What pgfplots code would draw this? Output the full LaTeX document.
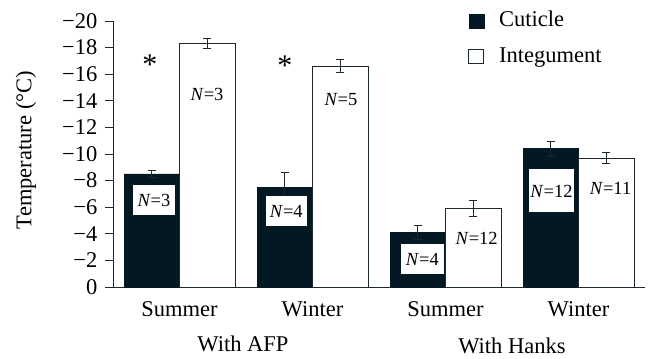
\documentclass[border=0pt]{standalone}
\usepackage{fontspec}
\setmainfont{Liberation Serif}
\usepackage{pgfplots}
\pgfplotsset{compat=1.18}
\definecolor{dk}{RGB}{4,24,35}
\definecolor{ln}{RGB}{28,40,48}
\begin{document}
\fontsize{22.5bp}{27bp}\selectfont
\begin{tikzpicture}
\path[use as bounding box] (-113bp,-72bp) rectangle (535bp,287bp);
\begin{axis}[
  at={(0,0)}, anchor=south west,
  scale only axis, width=532bp, height=266bp,
  xmin=-0.5, xmax=3.5, ymin=-20, ymax=0, y dir=reverse,
  axis x line*=bottom, axis y line*=left,
  axis line style={ln, line width=0.9bp},
  clip=false,
  ytick={0,-2,-4,-6,-8,-10,-12,-14,-16,-18,-20},
  yticklabels={0,−2,−4,−6,−8,−10,−12,−14,−16,−18,−20},
  y tick label style={font=\fontsize{22.5bp}{27bp}\selectfont},
  ytick style={ln, line width=0.9bp},
  tick align=outside, major tick length=8bp,
  xtick={0,1,2,3},
  xticklabels={Summer,Winter,Summer,Winter},
  x tick label style={font=\fontsize{22.5bp}{27bp}\selectfont, yshift=1bp},
  xtick style={draw=none},
  ylabel={Temperature (°C)},
  ylabel style={at={(axis description cs:-0.1635,0.515)}, anchor=center, rotate=0},
  error bars/error bar style={ln, line width=0.9bp},
  error bars/error mark options={ln, rotate=90, mark size=4bp, line width=0.9bp},
]
\addplot[ybar, bar width=0.417, bar shift=0pt, fill=dk, draw=dk, line width=0.9bp,
  error bars/.cd, y dir=both, y explicit]
  coordinates {
  (-0.2085,-8.5) +- (0,0.3)
  (0.7915,-7.5) +- (0,1.1)
  (1.7915,-4.1) +- (0,0.5)
  (2.7915,-10.4) +- (0,0.55)
  };
\addplot[ybar, bar width=0.417, bar shift=0pt, fill=white, draw=ln, line width=0.9bp,
  error bars/.cd, y dir=both, y explicit]
  coordinates {
  (0.2085,-18.3) +- (0,0.4)
  (1.2085,-16.6) +- (0,0.5)
  (2.2085,-5.9) +- (0,0.6)
  (3.2085,-9.7) +- (0,0.4)
  };
\begin{scope}[every node/.style={font=\fontsize{18.5bp}{22bp}\selectfont, inner sep=0pt}]
\node[fill=white, minimum width=42bp, minimum height=30bp] at (axis cs:-0.192,-6.54) {\textit{N}=3};
\node[fill=white, minimum width=41bp, minimum height=30bp] at (axis cs:0.803,-5.71) {\textit{N}=4};
\node[fill=white, minimum width=43bp, minimum height=30bp] at (axis cs:1.826,-2.1) {\textit{N}=4};
\node[fill=white, minimum width=45bp, minimum height=43bp] at (axis cs:2.797,-7.22) {\textit{N}=12};
\node at (axis cs:0.207,-14.44) {\textit{N}=3};
\node at (axis cs:1.214,-14.06) {\textit{N}=5};
\node at (axis cs:2.234,-3.66) {\textit{N}=12};
\node at (axis cs:3.241,-7.44) {\textit{N}=11};
\end{scope}
\node[font=\fontsize{30bp}{30bp}\selectfont] at (axis cs:-0.222,-16.75) {*};
\node[font=\fontsize{30bp}{30bp}\selectfont] at (axis cs:0.793,-16.65) {*};
\node[font=\fontsize{22.5bp}{27bp}\selectfont] at (axis cs:0.477,4.3) {With AFP};
\node[font=\fontsize{22.5bp}{27bp}\selectfont] at (axis cs:2.5,4.45) {With Hanks};
\end{axis}
\begin{axis}[
  at={(0,0)}, anchor=south west,
  scale only axis, width=532bp, height=266bp,
  xmin=0, xmax=1, ymin=0, ymax=1, hide axis,
  legend style={draw=none, fill=none, at={(axis description cs:0.662,1.048)}, anchor=north west,
    font=\fontsize{22.5bp}{27bp}\selectfont, row sep=15bp,
    nodes={inner xsep=2bp, inner ysep=0bp, text height=16bp, text depth=5bp}},
  legend cell align=left,
]
\addlegendimage{legend image code/.code={\draw[fill=dk,draw=dk] (0bp,-7bp) rectangle (15bp,7bp); \path (28bp,0);}}
\addlegendentry{Cuticle}
\addlegendimage{legend image code/.code={\draw[fill=white,draw=ln,line width=0.9bp] (0bp,-7bp) rectangle (15bp,7bp); \path (28bp,0);}}
\addlegendentry{Integument}
\end{axis}
\end{tikzpicture}
\end{document}
